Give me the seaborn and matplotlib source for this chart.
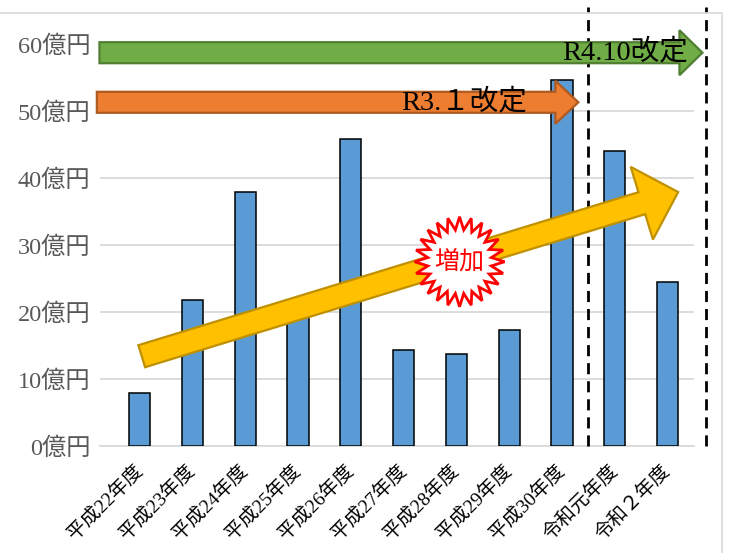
import numpy as np
import matplotlib
matplotlib.use('Agg')
import matplotlib.pyplot as plt
from matplotlib.patches import Polygon, Rectangle
import seaborn as sns
import pandas as pd

# ── data ───────────────────────────────────────────────────────────────
years = ['平成22年度', '平成23年度', '平成24年度', '平成25年度', '平成26年度',
         '平成27年度', '平成28年度', '平成29年度', '平成30年度', '令和元年度',
         '令和２年度']
amounts = [7.9, 21.8, 37.9, 20.0, 45.8, 14.3, 13.7, 17.3, 54.6, 44.1, 24.5]
y_ticks = [0, 10, 20, 30, 40, 50, 60]
y_tick_labels = [f'{v}億円' for v in y_ticks]

SERIF = ['Liberation Serif', 'Noto Sans CJK JP']
GOTHIC = ['Noto Sans CJK JP', 'DejaVu Sans']

sns.set_theme(style='white')
plt.rcParams['font.family'] = SERIF

fig = plt.figure(figsize=(7.32, 5.53), dpi=100)
ax = fig.add_axes([100 / 732, 107 / 553, 594 / 732, 402 / 553])

df = pd.DataFrame({'year': years, 'amount': amounts})
sns.barplot(data=df, x='year', y='amount', color='#5B9BD5', saturation=1,
            edgecolor='black', linewidth=1.1, width=0.4, ax=ax, zorder=3)

ax.set_xlim(-0.75, 10.5)
ax.set_ylim(0, 60)
ax.set_yticks(y_ticks)
ax.set_yticklabels(y_tick_labels, color='#595959', fontsize=17.5)
ax.set_xticks(range(len(years)))
ax.set_xticklabels(years, rotation=45, ha='right', va='center',
                   rotation_mode='anchor', fontsize=14, color='black')
ax.tick_params(axis='y', length=0, pad=7)
ax.tick_params(axis='x', length=0, pad=16)
ax.set_xlabel(''); ax.set_ylabel('')
ax.grid(axis='y', color='#D9D9D9', lw=1.3, zorder=0)
ax.set_axisbelow(True)
for s in ['left', 'right', 'top']:
    ax.spines[s].set_visible(False)
ax.spines['bottom'].set_color('#D9D9D9')
ax.spines['bottom'].set_linewidth(1.3)

# outer chart border
fig.patches.append(Rectangle((-2, -10), 724, 550, transform=None, fill=False,
                             ec='#D9D9D9', lw=1.2, zorder=0))

# dashed revision lines
for xv in [8.5, 10.72]:
    ax.plot([xv, xv], [0, 65.5], color='black', lw=2, ls=(0, (4, 2.5)),
            clip_on=False, zorder=4)


def to_px(x, y):
    return ax.transData.transform((x, y))


def from_px(pts):
    return ax.transData.inverted().transform(pts)


def arrow(tail, tip, shaft_w, head_w, head_l, fc, ec, z):
    p0 = to_px(*tail); p1 = to_px(*tip)
    d = p1 - p0
    u = d / np.hypot(*d)
    n = np.array([-u[1], u[0]])
    base = p1 - u * head_l
    pts = [p0 + n * shaft_w / 2, base + n * shaft_w / 2, base + n * head_w / 2,
           p1, base - n * head_w / 2, base - n * shaft_w / 2, p0 - n * shaft_w / 2]
    ax.add_patch(Polygon(from_px(np.array(pts)), closed=True, fc=fc, ec=ec,
                         lw=1.6, clip_on=False, zorder=z, joinstyle='miter'))


arrow((-0.76, 58.7), (10.66, 58.7), 21, 45, 23, '#70AD47', '#507E32', 5)
arrow((-0.81, 51.3), (8.31, 51.3), 21, 43, 23, '#ED7D31', '#AE5A21', 5)
arrow((0.04, 13.4), (10.2, 37.9), 23, 76, 38, '#FFC000', '#BF9000', 6)

ax.text(10.38, 58.8, 'R4.10改定', ha='right', va='center', fontsize=20.5,
        color='black', zorder=7, family=SERIF)
ax.text(7.34, 51.3, 'R3.１改定', ha='right', va='center', fontsize=20.5,
        color='black', zorder=7, family=SERIF)

# starburst "増加"
c = to_px(6.06, 27.5)
n_pts = 24
ang = np.linspace(0, 2 * np.pi, 2 * n_pts, endpoint=False) + np.pi / 2
rad = np.where(np.arange(2 * n_pts) % 2 == 0, 45, 32)
star = np.column_stack([c[0] + rad * np.cos(ang), c[1] + rad * np.sin(ang)])
ax.add_patch(Polygon(from_px(star), closed=True, fc='white', ec='#FF0000',
                     lw=2, clip_on=False, zorder=8))
ax.text(6.06, 27.5, '増加', ha='center', va='center', fontsize=18,
        color='#FF0000', zorder=9, family=GOTHIC)

fig.savefig('out.png', dpi=100)
